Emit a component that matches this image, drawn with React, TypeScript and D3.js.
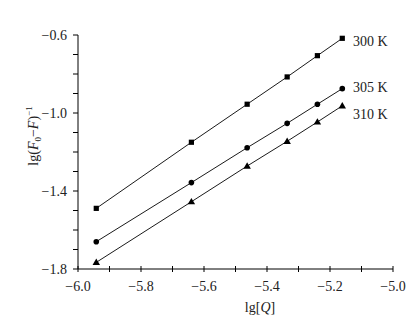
import React from 'react';
import * as d3 from 'd3';

const lgQ = [-5.942, -5.64, -5.463, -5.336, -5.24, -5.161];
const series300 = [-1.489, -1.15, -0.955, -0.815, -0.706, -0.617];
const series305 = [-1.66, -1.357, -1.178, -1.053, -0.955, -0.875];
const series310 = [-1.766, -1.455, -1.272, -1.145, -1.046, -0.963];
const seriesNames = ['300 K', '305 K', '310 K'];
const xTickLabels = [-6.0, -5.8, -5.6, -5.4, -5.2, -5.0];
const yTickLabels = [-0.6, -1.0, -1.4, -1.8];

const W = 419;
const H = 324;
const font = '"Liberation Serif", "Times New Roman", serif';

export default function App() {
  const x = d3.scaleLinear().domain([-6.0, -5.0]).range([78, 393]);
  const y = d3.scaleLinear().domain([-1.8, -0.6]).range([269, 35]);

  const xMinor = d3.range(0, 11).map((i) => -6.0 + i * 0.1);
  const yMinor = d3.range(0, 13).map((i) => -1.8 + i * 0.1);

  const line = d3.line<number>()
    .x((d, i) => x(lgQ[i]))
    .y((d) => y(d));

  const all = [series300, series305, series310];
  const fmt = (v: number) => (v < 0 ? '\u2212' : '') + Math.abs(v).toFixed(1);

  const marker = (k: number, cx: number, cy: number, key: string) => {
    if (k === 0) return <rect key={key} x={cx - 2.6} y={cy - 2.6} width={5.2} height={5.2} fill="#000" />;
    if (k === 1) return <circle key={key} cx={cx} cy={cy} r={2.8} fill="#000" />;
    const s = d3.symbol().type(d3.symbolTriangle).size(24)();
    return <path key={key} d={s || ''} transform={`translate(${cx},${cy + 0.5})`} fill="#000" />;
  };

  return (
    <svg width={W} height={H} style={{ position: 'absolute', left: 0, top: 0, background: '#fff' }}
      fontFamily={font}>
      {/* axes */}
      <line x1={x(-6)} x2={x(-5)} y1={y(-1.8)} y2={y(-1.8)} stroke="#000" strokeWidth={1} />
      <line x1={x(-6)} x2={x(-6)} y1={y(-1.8)} y2={y(-0.6)} stroke="#000" strokeWidth={1} />
      {xMinor.map((v, i) => (
        <line key={'xt' + i} x1={x(v)} x2={x(v)} y1={y(-1.8) - 3} y2={y(-1.8) + 3} stroke="#000" />
      ))}
      {yMinor.map((v, i) => (
        <line key={'yt' + i} x1={x(-6) - 5} x2={x(-6)} y1={y(v)} y2={y(v)} stroke="#000" />
      ))}
      {xTickLabels.map((v, i) => (
        <text key={'xl' + i} x={x(v)} y={291} textAnchor="middle" fontSize={14} fill="#222">{fmt(v)}</text>
      ))}
      {yTickLabels.map((v, i) => (
        <text key={'yl' + i} x={67} y={y(v) + 5} textAnchor="end" fontSize={14} fill="#222">{fmt(v)}</text>
      ))}
      {/* axis titles */}
      <text x={260} y={312} textAnchor="middle" fontSize={14} fill="#222">
        lg[<tspan fontStyle="italic">Q</tspan>]
      </text>
      <text transform="translate(38,136) rotate(-90)" textAnchor="middle" fontSize={14} fill="#222">
        lg(<tspan fontStyle="italic">F</tspan><tspan fontSize={9} dy={3}>0</tspan>
        <tspan dy={-3}>{'\u2212'}</tspan><tspan fontStyle="italic">F</tspan>)
        <tspan fontSize={9} dy={-6}>{'\u2212'}1</tspan>
      </text>
      {/* series */}
      {all.map((s, k) => (
        <g key={'s' + k}>
          <path d={line(s) || ''} fill="none" stroke="#000" strokeWidth={0.9} />
          {s.map((v, i) => marker(k, x(lgQ[i]), y(v), `m${k}-${i}`))}
          <text x={353} y={y(s[s.length - 1]) + 5 + (k === 0 ? 3 : k === 2 ? 8 : -2)} fontSize={14} fill="#222">
            {seriesNames[k]}
          </text>
        </g>
      ))}
    </svg>
  );
}
